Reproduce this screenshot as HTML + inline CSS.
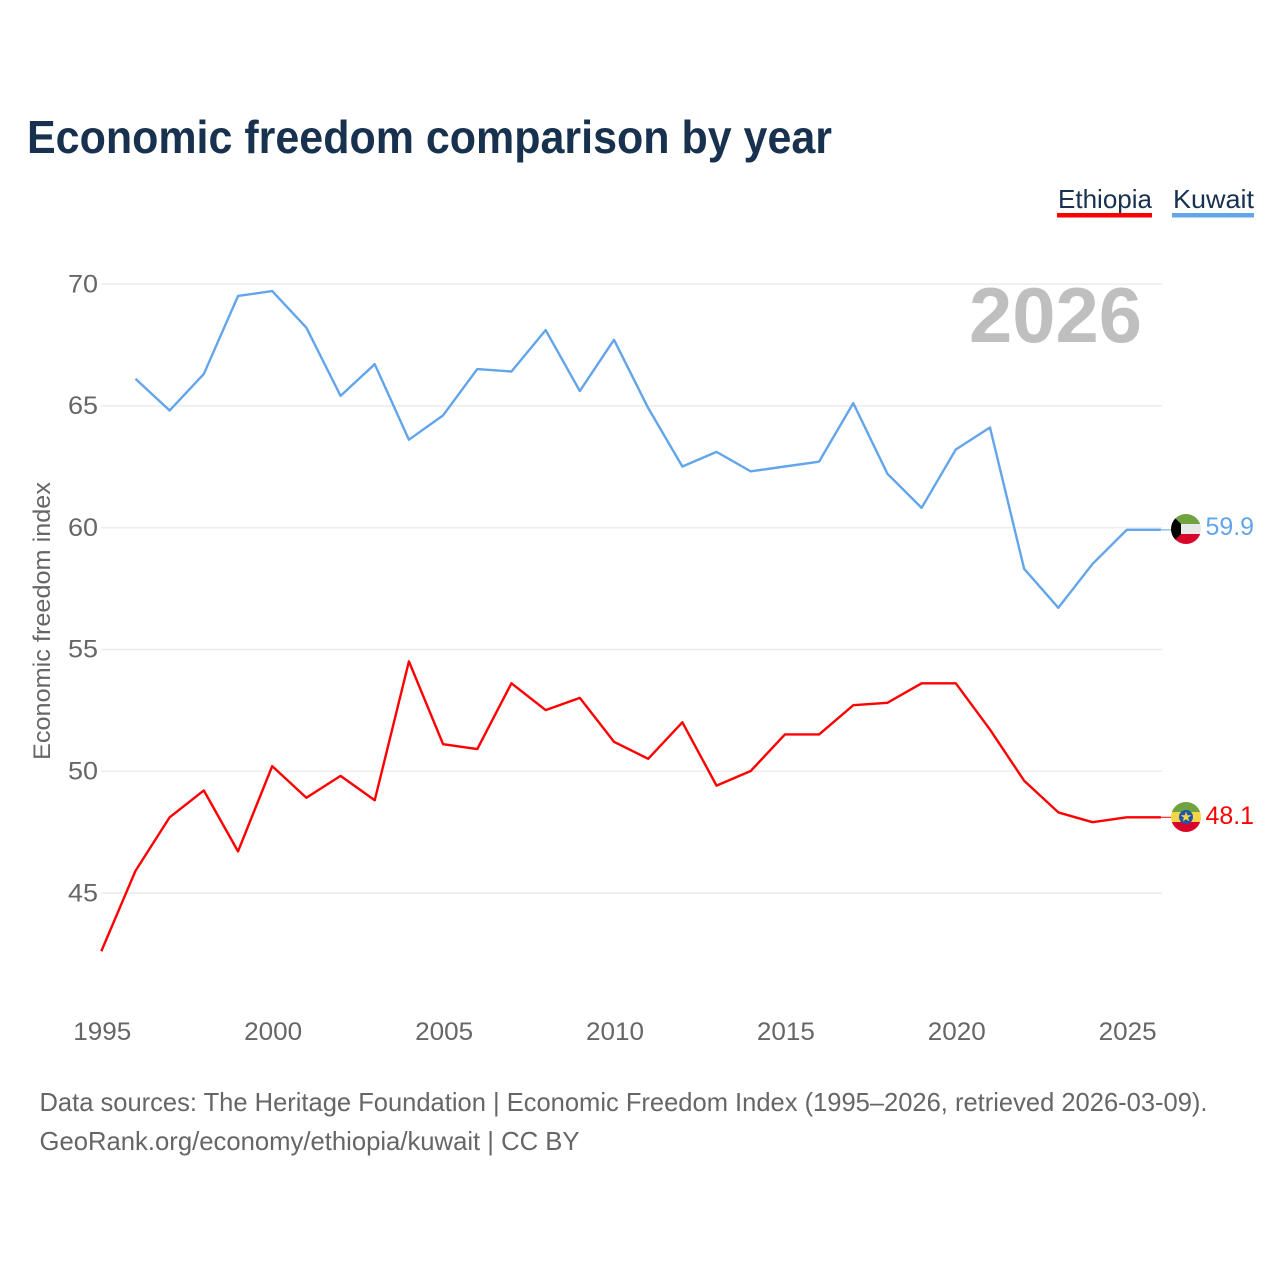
<!DOCTYPE html>
<html lang="en">
<head>
<meta charset="utf-8">
<title>Economic freedom comparison by year</title>
<style>
html,body{margin:0;padding:0;background:#fff;width:1280px;height:1280px;overflow:hidden}
svg{display:block;font-family:"Liberation Sans",sans-serif}
</style>
</head>
<body>
<svg id="chart" xmlns="http://www.w3.org/2000/svg" width="1280" height="1280" viewBox="0 0 1280 1280">
  <defs>
    <clipPath id="flag-clip-kw"><circle cx="1186" cy="529" r="15"/></clipPath>
    <clipPath id="flag-clip-et"><circle cx="1186" cy="817" r="15"/></clipPath>
  </defs>
  <text x="27" y="153" font-size="46" font-weight="700" fill="#18314f" textLength="805" lengthAdjust="spacingAndGlyphs">Economic freedom comparison by year</text>

  <g>
    <g>
      <text x="1058" y="208" font-size="26" fill="#18314f" textLength="94" lengthAdjust="spacingAndGlyphs">Ethiopia</text>
      <rect x="1057" y="213" width="95" height="4.5" fill="#ff0000"/>
    </g>
    <g>
      <text x="1173" y="208" font-size="26" fill="#18314f" textLength="81" lengthAdjust="spacingAndGlyphs">Kuwait</text>
      <rect x="1172" y="213" width="82" height="4.5" fill="#62a5ea"/>
    </g>
  </g>

  <g id="grid"></g>
  <g id="y-ticks"></g>
  <g id="x-ticks"></g>

  <text x="969" y="342" font-size="78" font-weight="700" fill="#bfbfbf" textLength="173" lengthAdjust="spacingAndGlyphs">2026</text>

  <text transform="translate(50 621) rotate(-90)" text-anchor="middle" font-size="24" fill="#666666" textLength="278" lengthAdjust="spacingAndGlyphs">Economic freedom index</text>

  <g id="series"></g>

  <g>
    <g clip-path="url(#flag-clip-kw)">
      <rect x="1171" y="514" width="30" height="10" fill="#6ea33f"/>
      <rect x="1171" y="524" width="30" height="10" fill="#e8e8e8"/>
      <rect x="1171" y="534" width="30" height="10" fill="#d9042b"/>
      <polygon points="1171,514 1181,524 1181,534 1171,544" fill="#000000"/>
    </g>
  </g>
  <g>
    <g clip-path="url(#flag-clip-et)">
      <rect x="1171" y="802" width="30" height="10" fill="#6ea33f"/>
      <rect x="1171" y="812" width="30" height="10" fill="#f5d547"/>
      <rect x="1171" y="822" width="30" height="10" fill="#d9042b"/>
      <circle cx="1186" cy="817" r="7" fill="#1f55a8"/>
      <polygon points="1186,811.5 1187.3,815.2 1191.2,815.3 1188.1,817.7 1189.2,821.4 1186,819.2 1182.8,821.4 1183.9,817.7 1180.8,815.3 1184.7,815.2" fill="#f5d547"/>
    </g>
  </g>

  <text x="1205.5" y="535" font-size="25" fill="#62a5ea" textLength="48.5" lengthAdjust="spacingAndGlyphs">59.9</text>
  <text x="1205.5" y="824" font-size="25" fill="#ff0000" textLength="48.5" lengthAdjust="spacingAndGlyphs">48.1</text>

  <text x="39.5" y="1111" font-size="26" fill="#666666" textLength="1168" lengthAdjust="spacingAndGlyphs">Data sources: The Heritage Foundation | Economic Freedom Index (1995–2026, retrieved 2026-03-09).</text>
  <text x="39.5" y="1150" font-size="26" fill="#666666" textLength="540" lengthAdjust="spacingAndGlyphs">GeoRank.org/economy/ethiopia/kuwait | CC BY</text>
</svg>
<script>
const years = [1995,1996,1997,1998,1999,2000,2001,2002,2003,2004,2005,2006,2007,2008,2009,2010,2011,2012,2013,2014,2015,2016,2017,2018,2019,2020,2021,2022,2023,2024,2025,2026];
const ethiopia = [42.6,45.9,48.1,49.2,46.7,50.2,48.9,49.8,48.8,54.5,51.1,50.9,53.6,52.5,53.0,51.2,50.5,52.0,49.4,50.0,51.5,51.5,52.7,52.8,53.6,53.6,51.7,49.6,48.3,47.9,48.1,48.1];
const kuwait = [null,66.1,64.8,66.3,69.5,69.7,68.2,65.4,66.7,63.6,64.6,66.5,66.4,68.1,65.6,67.7,64.9,62.5,63.1,62.3,62.5,62.7,65.1,62.2,60.8,63.2,64.1,58.3,56.7,58.5,59.9,59.9];
const yTickValues = [45,50,55,60,65,70];
const xTickValues = [1995,2000,2005,2010,2015,2020,2025];

const NS = 'http://www.w3.org/2000/svg';
const xScale = function (year) { return 101.3 + (year - 1995) * 34.18; };
const yScale = function (value) { return 283.8 + (70 - value) * 24.36; };

function make(tag, attrs, parent) {
  const el = document.createElementNS(NS, tag);
  Object.keys(attrs).forEach(function (k) { el.setAttribute(k, attrs[k]); });
  parent.appendChild(el);
  return el;
}

const gridGroup = document.getElementById('grid');
const yGroup = document.getElementById('y-ticks');
yTickValues.forEach(function (v) {
  const line = make('line', {x1: 101, x2: 1162, y1: yScale(v) + 0.3, y2: yScale(v) + 0.3, stroke: '#ececec', 'stroke-width': 1.5}, gridGroup);
  
  
  const label = make('text', {x: 98, y: yScale(v) + 8.5, 'text-anchor': 'end', 'font-size': 25, fill: '#666666', textLength: 30, lengthAdjust: 'spacingAndGlyphs'}, yGroup);
  label.textContent = v;
  
  
});

const xGroup = document.getElementById('x-ticks');
xTickValues.forEach(function (y) {
  const label = make('text', {x: xScale(y) + 1, y: 1040, 'text-anchor': 'middle', 'font-size': 25, fill: '#666666', textLength: 58, lengthAdjust: 'spacingAndGlyphs'}, xGroup);
  label.textContent = y;
  
  
});

function pathFor(values) {
  let d = '';
  values.forEach(function (v, i) {
    if (v === null) return;
    d += (d ? 'L' : 'M') + xScale(years[i]).toFixed(2) + ' ' + yScale(v).toFixed(2);
  });
  return d;
}

function lastPoint(values) {
  const i = values.length - 1;
  return {x: xScale(years[i]), y: yScale(values[i])};
}

const seriesGroup = document.getElementById('series');

const lineEthiopia = make('path', {d: pathFor(ethiopia), fill: 'none', stroke: '#ff0000', 'stroke-width': 2.4, 'stroke-linejoin': 'round'}, seriesGroup);



const lineKuwait = make('path', {d: pathFor(kuwait), fill: 'none', stroke: '#62a5ea', 'stroke-width': 2.4, 'stroke-linejoin': 'round'}, seriesGroup);



const endE = lastPoint(ethiopia);
const connectorEthiopia = make('line', {x1: endE.x, x2: 1172, y1: endE.y, y2: endE.y, stroke: '#ff0000', 'stroke-width': 1}, seriesGroup);



const endK = lastPoint(kuwait);
const connectorKuwait = make('line', {x1: endK.x, x2: 1172, y1: endK.y, y2: endK.y, stroke: '#62a5ea', 'stroke-width': 1}, seriesGroup);


</script>
</body>
</html>
